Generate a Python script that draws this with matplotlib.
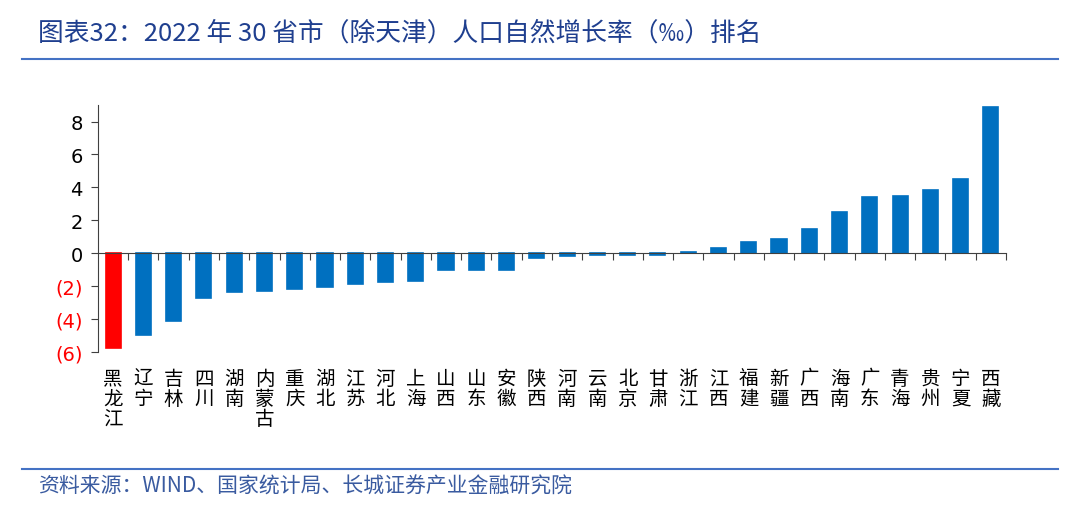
import matplotlib
matplotlib.use("Agg")
import matplotlib.pyplot as plt
from matplotlib.lines import Line2D

plt.rcParams['font.family'] = ['Noto Sans CJK SC', 'DejaVu Sans']

# 数据
provinces = ['黑龙江', '辽宁', '吉林', '四川', '湖南', '内蒙古', '重庆', '湖北', '江苏', '河北',
             '上海', '山西', '山东', '安徽', '陕西', '河南', '云南', '北京', '甘肃', '浙江',
             '江西', '福建', '新疆', '广西', '海南', '广东', '青海', '贵州', '宁夏', '西藏']
rates = [-5.75, -4.96, -4.11, -2.74, -2.38, -2.32, -2.18, -2.07, -1.86, -1.77,
         -1.70, -1.05, -1.00, -1.00, -0.30, -0.15, -0.12, -0.10, -0.08, 0.10,
         0.30, 0.65, 0.88, 1.50, 2.53, 3.41, 3.46, 3.82, 4.51, 8.87]
yticks = [-6, -4, -2, 0, 2, 4, 6, 8]
title = '图表32：2022 年 30 省市（除天津）人口自然增长率（‰）排名'
source = '资料来源：WIND、国家统计局、长城证券产业金融研究院'

blue = '#0070C0'
red = '#FF0000'
navy = '#1F3F8F'

fig = plt.figure(figsize=(10.8, 5.1), dpi=100)
ax = fig.add_axes([0.0907, 0.308, 0.8408, 0.484])

colors = [red] + [blue] * (len(rates) - 1)
x = list(range(len(rates)))
ax.bar(x, rates, width=0.5, color=colors, edgecolor=colors, linewidth=1.2, zorder=2)

ax.set_xlim(-0.5, len(rates) - 0.5)
ax.set_ylim(-6, 9)
ax.set_yticks(yticks)
ax.set_yticklabels([str(v) if v >= 0 else f'({abs(v)})' for v in yticks],
                   fontsize=14, family='DejaVu Sans')
for lab, v in zip(ax.get_yticklabels(), yticks):
    lab.set_color(red if v < 0 else 'black')

# x 轴放在 0 处，刻度在类别之间
ax.spines['bottom'].set_position(('data', 0))
ax.spines['top'].set_visible(False)
ax.spines['right'].set_visible(False)
ax.spines['left'].set_color('#404040')
ax.spines['bottom'].set_color('#404040')
ax.set_xticks([i + 0.5 for i in range(len(rates))])
ax.set_xticklabels([])
ax.tick_params(axis='x', direction='out', length=5, color='#404040')
ax.tick_params(axis='y', direction='out', length=5, color='#404040', pad=6)

# 竖排省份名
for i, name in enumerate(provinces):
    ax.text(i, -6.95, '\n'.join(name), ha='center', va='top', fontsize=14,
            linespacing=0.95, transform=ax.transData, clip_on=False)

# 标题与分隔线
fig.text(0.035, 0.935, title, fontsize=18.5, color=navy, style='italic',
         ha='left', va='center')
fig.add_artist(Line2D([0.02, 0.98], [0.882, 0.882], color='#4472C4', lw=1.5))
fig.add_artist(Line2D([0.02, 0.98], [0.078, 0.078], color='#4472C4', lw=1.5))
fig.text(0.035, 0.045, source, fontsize=15, color='#3A5BA0', style='italic',
         ha='left', va='center')

fig.savefig('out.png', dpi=100)
